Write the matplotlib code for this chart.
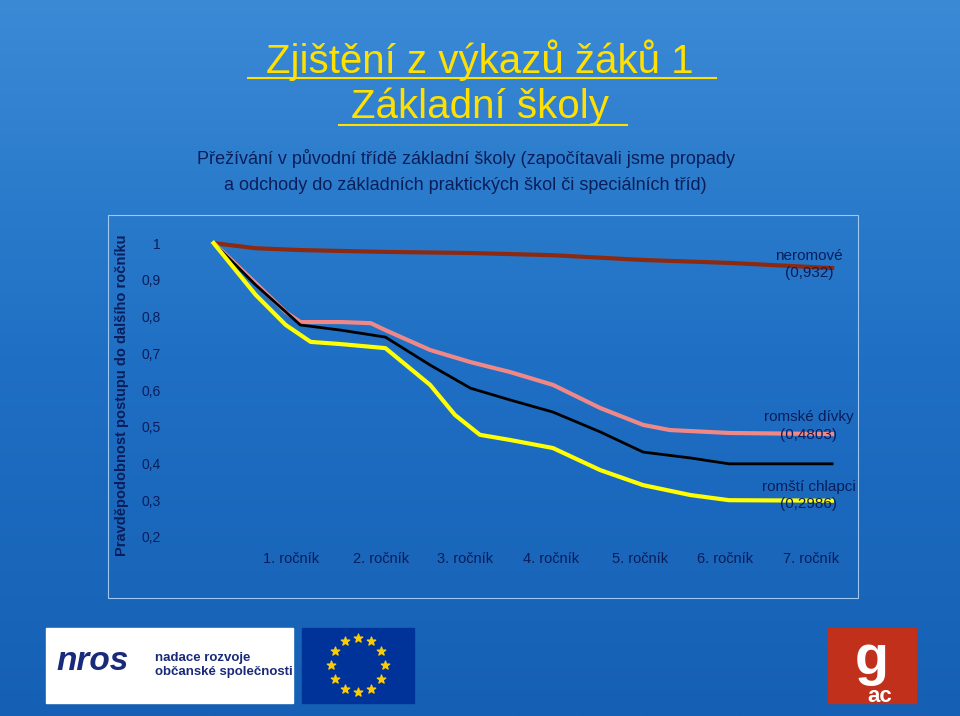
import numpy as np
import matplotlib
import matplotlib.pyplot as plt
from matplotlib.patches import Rectangle

matplotlib.rcParams['font.family'] = 'Liberation Sans'

# data (x in "ročník" units from the start of the line)
x_black = [0, 0.49, 1.01, 1.48, 2.0, 2.52, 2.99, 3.45, 3.95, 4.5, 5.0, 5.55, 6.0, 7.2]
y_black = [1.0, 0.886, 0.777, 0.763, 0.744, 0.668, 0.605, 0.573, 0.540, 0.486, 0.431, 0.415, 0.399, 0.399]
x_pink = [0, 0.49, 0.84, 1.01, 1.48, 1.83, 2.0, 2.52, 2.99, 3.45, 3.95, 4.5, 5.0, 5.31, 6.0, 7.2]
y_pink = [1.0, 0.891, 0.812, 0.785, 0.785, 0.782, 0.763, 0.709, 0.676, 0.649, 0.614, 0.551, 0.505, 0.491, 0.483, 0.480]
x_yellow = [0, 0.49, 0.84, 1.13, 1.48, 2.0, 2.52, 2.81, 3.1, 3.45, 3.95, 4.5, 5.0, 5.55, 6.0, 7.2]
y_yellow = [1.0, 0.859, 0.777, 0.731, 0.725, 0.714, 0.614, 0.532, 0.478, 0.464, 0.442, 0.382, 0.341, 0.314, 0.300, 0.2986]
x_brown = [0, 0.49, 1.01, 2.0, 2.99, 3.95, 5.0, 6.0, 7.2]
y_brown = [1.0, 0.986, 0.981, 0.976, 0.973, 0.967, 0.954, 0.946, 0.932]

xtick_labels = ['1. ročník', '2. ročník', '3. ročník', '4. ročník', '5. ročník', '6. ročník', '7. ročník']
xtick_pos = [0.9, 1.95, 2.93, 3.93, 4.97, 5.95, 6.95]
yticks = [0.2, 0.3, 0.4, 0.5, 0.6, 0.7, 0.8, 0.9, 1.0]

fig = plt.figure(figsize=(9.6, 7.16), dpi=100)

# background gradient
bg = fig.add_axes([0, 0, 1, 1])
grad = np.linspace(0, 1, 256).reshape(-1, 1)
cmap = matplotlib.colors.LinearSegmentedColormap.from_list('bg', ['#3a8ad6', '#1f6fc4', '#1560b4'])
bg.imshow(grad, aspect='auto', cmap=cmap, extent=[0, 1, 0, 1])
bg.set_xlim(0, 1); bg.set_ylim(0, 1); bg.axis('off')

# frame of chart
bg.add_patch(Rectangle((108/960, 1-598/716), 750/960, 383/716, fill=False, ec='#9ec8ee', lw=0.8))

fig.text(0.5, 1-60/716, 'Zjištění z výkazů žáků 1', color='#ffe000', fontsize=29,
         ha='center', va='center')
fig.text(0.5, 1-107/716, 'Základní školy', color='#ffe000', fontsize=29, ha='center', va='center')
bg.plot([248/960, 716/960], [1-78/716]*2, color='#ffe000', lw=1.5)
bg.plot([339/960, 627/960], [1-125/716]*2, color='#ffe000', lw=1.5)
fig.text(0.485, 1-158/716, 'Přežívání v původní třídě základní školy (započítavali jsme propady',
         color='#0a1e5a', fontsize=13, ha='center', va='center')
fig.text(0.485, 1-185/716, 'a odchody do základních praktických škol či speciálních tříd)',
         color='#0a1e5a', fontsize=13, ha='center', va='center')

ax = fig.add_axes([205/960, 1-545/716, 640/960, 310/716])
ax.patch.set_alpha(0)
ax.plot(x_brown, y_brown, color='#8b2a10', lw=3)
ax.plot(x_pink, y_pink, color='#f08888', lw=3)
ax.plot(x_black, y_black, color='#000000', lw=2)
ax.plot(x_yellow, y_yellow, color='#ffff00', lw=3)
ax.set_xlim(-0.1, 7.35)
ax.set_ylim(0.178, 1.022)
for s in ax.spines.values():
    s.set_visible(False)
ax.set_xticks([])
ax.set_yticks(yticks)
ax.set_yticklabels(['0,2', '0,3', '0,4', '0,5', '0,6', '0,7', '0,8', '0,9', '1'])
ax.tick_params(axis='y', length=0, pad=32, labelsize=10, labelcolor='#0a1e5a')
for xp, lab in zip(xtick_pos, xtick_labels):
    ax.text(xp, 0.14, lab, ha='center', va='center', fontsize=10.5, color='#0a1e5a')
fig.text(122/960, 1-395/716, 'Pravděpodobnost postupu do dalšího ročníku', rotation=90,
         ha='center', va='center', fontsize=10.5, color='#0a1e5a', fontweight='bold')

ax.text(6.93, 0.985, 'neromové\n(0,932)', ha='center', va='top', fontsize=11, color='#0a1e5a', linespacing=1.3)
ax.text(6.93, 0.545, 'romské dívky\n(0,4803)', ha='center', va='top', fontsize=11, color='#0a1e5a', linespacing=1.3)
ax.text(6.93, 0.355, 'romští chlapci\n(0,2986)', ha='center', va='top', fontsize=11, color='#0a1e5a', linespacing=1.3)

# logos
bg.add_patch(Rectangle((46/960, 1-703/716), 247/960, 75/716, color='white'))
fig.text(56/960, 1-662/716, 'nros', fontsize=24, color='#1a2a7a', style='italic', fontweight='bold', va='center')
fig.text(155/960, 1-665/716, 'nadace rozvoje\nobčanské společnosti', fontsize=9.5, color='#1a2a7a',
         fontweight='bold', va='center')
bg.add_patch(Rectangle((302/960, 1-703/716), 112/960, 75/716, color='#003399'))
ang = np.linspace(0, 2*np.pi, 13)[:-1]
bg.scatter(358/960 + 0.028*np.cos(ang), 1-665/716 + 0.038*np.sin(ang), marker='*', s=40, color='#ffcc00')
bg.add_patch(Rectangle((828/960, 1-703/716), 88/960, 75/716, color='#c0301a'))
fig.text(872/960, 1-660/716, 'g', fontsize=40, color='white', fontweight='bold', ha='center', va='center')
fig.text(880/960, 1-697/716, 'ac', fontsize=16, color='white', fontweight='bold', ha='center', va='center')

plt.savefig('out.png', dpi=100)
